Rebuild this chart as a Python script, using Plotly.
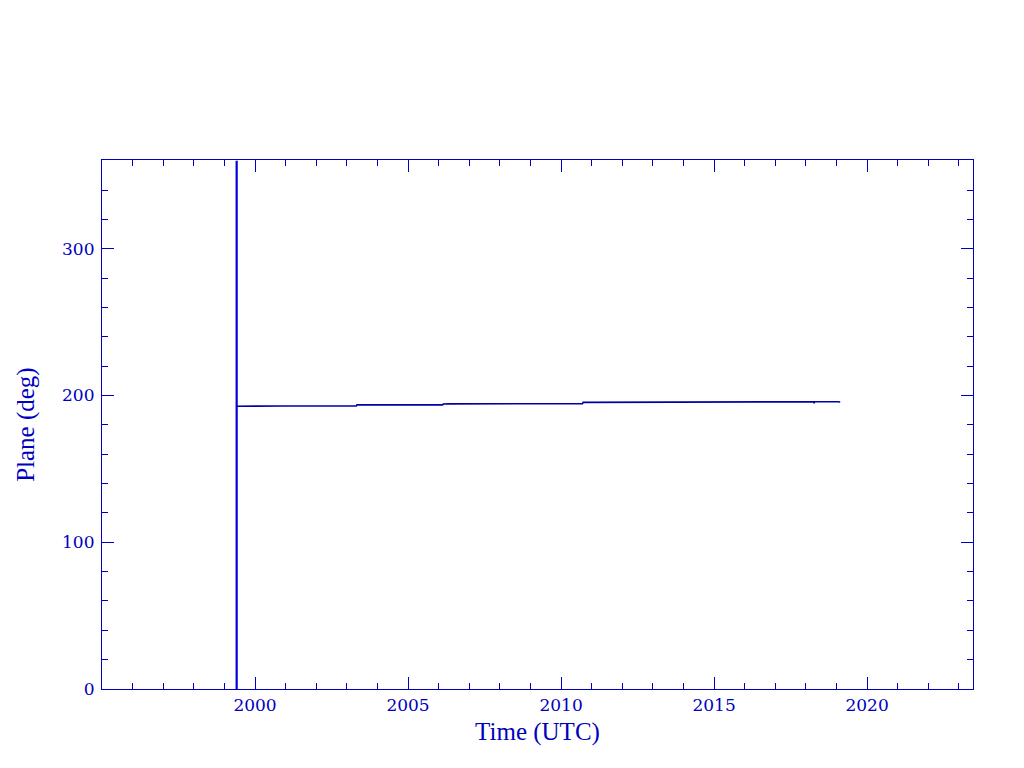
import plotly.graph_objects as go

# Orbital plane angle (deg) vs time (decimal year)
time_years = [1999.38, 1999.84, 1999.85, 2000.92, 2000.93, 2003.31, 2003.33,
              2006.13, 2006.15, 2006.34, 2010.70, 2010.72, 2015.58, 2015.60,
              2015.92, 2018.26, 2018.27, 2018.28, 2019.08, 2019.12]
plane_deg = [192.7, 192.8, 193.0, 193.0, 192.9, 192.9, 193.6,
             193.6, 194.2, 194.3, 194.4, 195.3, 195.3, 195.6,
             195.7, 195.8, 194.6, 195.8, 195.8, 195.3]

# Vertical excursion at the start of the record
spike_time = [1999.40, 1999.40]
spike_deg = [0, 360]

x_ticks = [2000, 2005, 2010, 2015, 2020]
y_ticks = [0, 100, 200, 300]

AX = "#0000C0"
LINE = "#0000A8"
SPIKE = "#0000DD"

fig = go.Figure()
fig.add_trace(go.Scatter(x=spike_time, y=spike_deg, mode="lines",
                         line=dict(color=SPIKE, width=2.2), showlegend=False))
fig.add_trace(go.Scatter(x=time_years, y=plane_deg, mode="lines",
                         line=dict(color=LINE, width=1.6), showlegend=False))

axis_common = dict(
    showgrid=False, zeroline=False, showline=True, linecolor=AX, linewidth=1.2,
    mirror="allticks", ticks="inside", ticklen=12, tickwidth=1.2, tickcolor=AX,
    tickfont=dict(family="DejaVu Serif", size=17, color=AX),
    automargin=False,
)

fig.update_xaxes(
    range=[1995.0, 2023.46], tickvals=x_ticks, ticktext=[str(v) for v in x_ticks],
    minor=dict(ticks="inside", ticklen=6, dtick=1, tick0=1995, tickcolor=AX, tickwidth=1.2),
    title=dict(text="Time (UTC)", font=dict(family="Liberation Serif", size=25, color=AX), standoff=8),
    **axis_common,
)
fig.update_yaxes(
    range=[0, 360.5], tickvals=y_ticks, ticktext=[str(v) for v in y_ticks],
    ticklabelstandoff=3,
    minor=dict(ticks="inside", ticklen=6, dtick=20, tick0=0, tickcolor=AX, tickwidth=1.2),
    **axis_common,
)

fig.add_annotation(
    text="Plane (deg)", textangle=-90, showarrow=False,
    xref="paper", yref="paper", x=-0.088, y=0.5, xanchor="center", yanchor="middle",
    font=dict(family="Liberation Serif", size=25, color=AX),
)

fig.update_layout(
    width=1016, height=760,
    margin=dict(l=94, r=51, t=152, b=79, pad=0, autoexpand=False),
    paper_bgcolor="white", plot_bgcolor="white",
)

fig.write_html("out.html", config={"displayModeBar": False})
